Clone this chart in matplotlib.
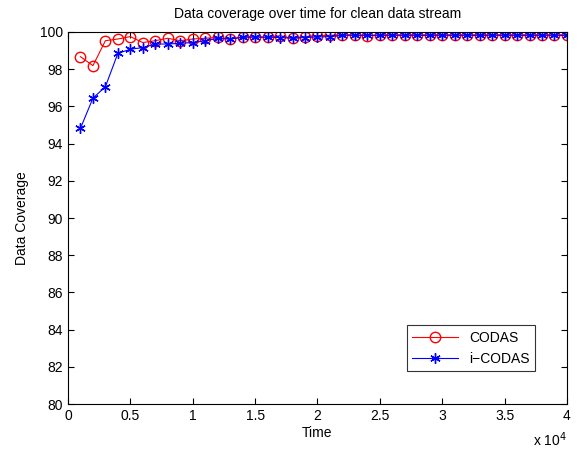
import matplotlib
matplotlib.use("Agg")
import matplotlib.pyplot as plt
import numpy as np

plt.rcParams['font.family'] = ['Liberation Sans', 'DejaVu Sans']

time = np.arange(1000, 40001, 1000)

codas = [98.67, 98.19, 99.53, 99.62, 99.75, 99.43, 99.53, 99.66, 99.53, 99.62,
         99.66, 99.71, 99.60, 99.75, 99.75, 99.71, 99.80, 99.66, 99.75, 99.80,
         99.82, 99.84, 99.84, 99.80, 99.84, 99.84, 99.84, 99.84, 99.84, 99.84,
         99.84, 99.84, 99.84, 99.84, 99.84, 99.84, 99.84, 99.84, 99.84, 99.84]

icodas = [94.82, 96.44, 97.06, 98.85, 99.07, 99.16, 99.35, 99.35, 99.39, 99.43,
          99.52, 99.66, 99.62, 99.71, 99.72, 99.72, 99.70, 99.66, 99.70, 99.73,
          99.75, 99.82, 99.82, 99.82, 99.82, 99.82, 99.82, 99.82, 99.82, 99.82,
          99.82, 99.82, 99.82, 99.82, 99.82, 99.82, 99.82, 99.82, 99.82, 99.82]

fig = plt.figure(figsize=(5.79, 4.5), dpi=100)
ax = fig.add_axes([0.1174, 0.102, 0.8618, 0.827])

ax.plot(time, codas, color='red', marker='o', markersize=7.5, markerfacecolor='none',
        linewidth=0.8, label='CODAS')
ax.plot(time, icodas, color='blue', marker=(6, 2, 0), markersize=7.5, markeredgewidth=1.0,
        linewidth=0.8, label='i\u2212CODAS')

ax.set_xlim(0, 40000)
ax.set_ylim(80, 100)
ax.set_xticks(np.arange(0, 40001, 5000))
ax.set_xticklabels(['0', '0.5', '1', '1.5', '2', '2.5', '3', '3.5', '4'])
ax.set_yticks(np.arange(80, 101, 2))
ax.tick_params(direction='in', top=True, right=True, labelsize=10, length=4)
ax.text(1.0, -0.07, r'x 10$^4$', transform=ax.transAxes, ha='right', va='top', fontsize=10)

ax.set_xlabel('Time', fontsize=10, labelpad=2)
ax.set_ylabel('Data Coverage', fontsize=10, labelpad=8)
ax.set_title('Data coverage over time for clean data stream', fontsize=10, pad=10)

leg = ax.legend(loc='lower right', bbox_to_anchor=(0.95, 0.07), fancybox=False,
                edgecolor='black', fontsize=10, handlelength=3.3, borderpad=0.4)
leg.get_frame().set_linewidth(0.8)

fig.savefig('out.png', dpi=100)
